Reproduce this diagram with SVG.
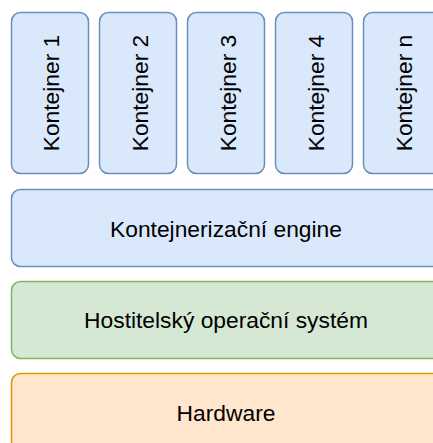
<svg xmlns="http://www.w3.org/2000/svg" width="433" height="443" viewBox="0 0 433 443">
<style>
  .blue{fill:#dae8fc;stroke:#6c8ebf;stroke-width:1.5}
  .green{fill:#d5e8d4;stroke:#82b366;stroke-width:1.5}
  .orange{fill:#ffe6cc;stroke:#d79b00;stroke-width:1.5}
  .lbl{font-family:"Liberation Sans",Arial,Helvetica,sans-serif;font-size:22.8px;fill:#000;text-anchor:middle}
</style>
<rect x="0" y="0" width="433" height="443" fill="#ffffff"/>
<g id="kontejner1"><rect class="blue" x="11.5" y="12.5" width="77" height="161" rx="9"/><text class="lbl" transform="translate(59,93) rotate(-90)">Kontejner 1</text></g>
<g id="kontejner2"><rect class="blue" x="99.5" y="12.5" width="77" height="161" rx="9"/><text class="lbl" transform="translate(147.5,93) rotate(-90)">Kontejner 2</text></g>
<g id="kontejner3"><rect class="blue" x="187.5" y="12.5" width="77" height="161" rx="9"/><text class="lbl" transform="translate(235.5,93) rotate(-90)">Kontejner 3</text></g>
<g id="kontejner4"><rect class="blue" x="275.5" y="12.5" width="77" height="161" rx="9"/><text class="lbl" transform="translate(323.5,93) rotate(-90)">Kontejner 4</text></g>
<g id="kontejnern"><rect class="blue" x="363.5" y="12.5" width="77" height="161" rx="9"/><text class="lbl" transform="translate(411.5,93) rotate(-90)">Kontejner n</text></g>
<g id="engine"><rect class="blue" x="11.5" y="189.5" width="429" height="77" rx="9"/><text class="lbl" x="226" y="236.7">Kontejnerizační engine</text></g>
<g id="os"><rect class="green" x="11.5" y="281.5" width="429" height="77" rx="9"/><text class="lbl" x="226" y="328.3">Hostitelský operační systém</text></g>
<g id="hardware"><rect class="orange" x="11.5" y="373.5" width="429" height="77" rx="9"/><text class="lbl" x="226" y="420.7">Hardware</text></g>
<g id="connectors"></g>
</svg>
